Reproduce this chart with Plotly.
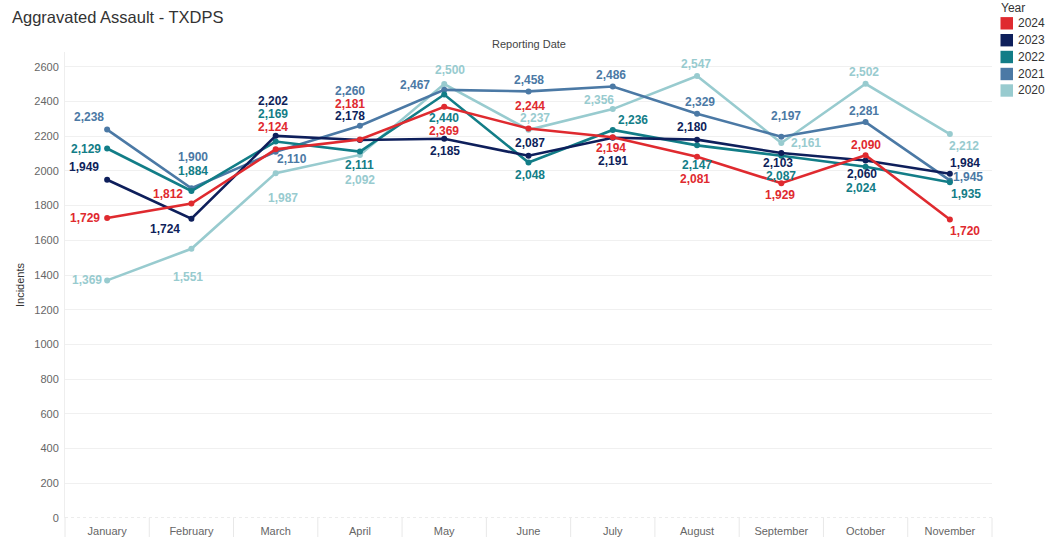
import plotly.graph_objects as go

months = ["January", "February", "March", "April", "May", "June", "July",
          "August", "September", "October", "November"]
years = ["2024", "2023", "2022", "2021", "2020"]
v2024 = [1729, 1812, 2124, 2181, 2369, 2244, 2194, 2081, 1929, 2090, 1720]
v2023 = [1949, 1724, 2202, 2178, 2185, 2087, 2191, 2180, 2103, 2060, 1984]
v2022 = [2129, 1884, 2169, 2111, 2440, 2048, 2236, 2147, 2087, 2024, 1935]
v2021 = [2238, 1900, 2110, 2260, 2467, 2458, 2486, 2329, 2197, 2281, 1945]
v2020 = [1369, 1551, 1987, 2092, 2500, 2237, 2356, 2547, 2161, 2502, 2212]
y_ticks = [0, 200, 400, 600, 800, 1000, 1200, 1400, 1600, 1800, 2000, 2200, 2400, 2600]

values = {"2024": v2024, "2023": v2023, "2022": v2022, "2021": v2021, "2020": v2020}
colors = {"2024": "#DF2A2F", "2023": "#0E1F5B", "2022": "#127D87",
          "2021": "#4B79A5", "2020": "#98CBCF"}

# label offsets in pixels (dx right, dy down) relative to each point
offsets = {
    "2024": [(-22, 0), (-23, -10), (-3, -22), (-10, -35), (0, 24), (1, -23), (-2, 11),
             (-2, 22), (-1, 12), (0, -10), (15, 12)],
    "2023": [(-23, -13), (-26, 10), (-3, -35), (-10, -24), (1, 12), (1, -13), (0, 23),
             (-5, -13), (-3, 10), (-4, 14), (15, -11)],
    "2022": [(-21, 0), (2, -20), (-3, -28), (0, 13), (0, 23), (1, 12), (20, -10),
             (0, 20), (0, 20), (-5, 21), (16, 12)],
    "2021": [(-18, -13), (2, -31), (16, 7), (-10, -35), (-29, -5), (0, -11), (-2, -12),
             (3, -12), (5, -21), (-2, -11), (18, -3)],
    "2020": [(-20, 0), (-3, 28), (7, 25), (0, 25), (6, -14), (6, -12), (-14, -9),
             (-1, -12), (25, 0), (-2, -12), (14, 12)],
}

W, H = 1045, 537
L, R, T, B = 65, 992, 52, 518  # plot area in pixels
YMAX = 2685


def px(xp):
    return (xp - L) / (R - L)


def py(yp):
    return (B - yp) / (B - T)


FONT = "Liberation Sans, Arial, sans-serif"
fig = go.Figure()
xs = list(range(len(months)))
for yr in reversed(years):
    fig.add_trace(go.Scatter(
        x=xs, y=values[yr], mode="lines+markers", name=yr,
        line=dict(color=colors[yr], width=2.6),
        marker=dict(color=colors[yr], size=6),
        showlegend=False, hoverinfo="skip"))

annotations = []
for yr in years:
    for i, v in enumerate(values[yr]):
        dx, dy = offsets[yr][i]
        annotations.append(dict(
            x=i, y=v, xref="x", yref="y", text="<b>{:,}</b>".format(v),
            showarrow=False, xshift=dx, yshift=-dy,
            font=dict(family=FONT, size=12, color=colors[yr]),
            xanchor="center", yanchor="middle"))

# titles
annotations.append(dict(x=px(10), y=py(17), xref="paper", yref="paper",
                        text="Aggravated Assault - TXDPS", showarrow=False,
                        xanchor="left", yanchor="middle",
                        font=dict(family=FONT, size=16.5, color="#333333")))
annotations.append(dict(x=0.5, y=py(44), xref="paper", yref="paper",
                        text="Reporting Date", showarrow=False,
                        xanchor="center", yanchor="middle",
                        font=dict(family=FONT, size=11, color="#444444")))
annotations.append(dict(x=px(20), y=0.5, xref="paper", yref="paper",
                        text="Incidents", showarrow=False, textangle=-90,
                        xanchor="center", yanchor="middle",
                        font=dict(family=FONT, size=11, color="#333333")))

shapes = []
# legend
annotations.append(dict(x=px(999), y=py(8), xref="paper", yref="paper",
                        text="Year", showarrow=False, xanchor="left", yanchor="middle",
                        font=dict(family=FONT, size=12, color="#333333")))
row_y = [23.3, 40.2, 57, 74, 90.5]
for yr, cy in zip(years, row_y):
    shapes.append(dict(type="rect", xref="paper", yref="paper",
                       x0=px(1000.5), x1=px(1013), y0=py(cy - 6.2), y1=py(cy + 6.2),
                       fillcolor=colors[yr], line=dict(width=0)))
    annotations.append(dict(x=px(1016), y=py(cy), xref="paper", yref="paper",
                            text=yr, showarrow=False, xanchor="left", yanchor="middle",
                            font=dict(family=FONT, size=12, color="#333333")))

# category separators in the axis band
for k in range(len(months) + 1):
    shapes.append(dict(type="line", xref="paper", yref="paper",
                       x0=k / len(months), x1=k / len(months),
                       y0=0, y1=py(537), line=dict(color="#e8e8e8", width=1)))
# zero line (dotted)
shapes.append(dict(type="line", xref="paper", yref="y", x0=0, x1=1, y0=0, y1=0,
                   line=dict(color="#d9d9d9", width=1, dash="dot")))

fig.update_layout(
    width=W, height=H,
    margin=dict(l=L, r=W - R, t=T, b=H - B, pad=0),
    paper_bgcolor="white", plot_bgcolor="white",
    font=dict(family=FONT, size=11, color="#666666"),
    xaxis=dict(range=[-0.5, len(months) - 0.5], tickmode="array", tickvals=xs,
               ticktext=months, showgrid=False, zeroline=False, showline=False,
               ticks="outside", ticklen=3, tickcolor="rgba(0,0,0,0)",
               tickfont=dict(size=11, color="#666666"), fixedrange=True,
               automargin=False),
    yaxis=dict(range=[0, YMAX], tickmode="array", tickvals=y_ticks,
               ticktext=[str(t) for t in y_ticks], showgrid=True,
               gridcolor="#f0f0f0", gridwidth=1, zeroline=False,
               showline=True, linecolor="#eeeeee", linewidth=1,
               ticks="outside", ticklen=3, tickcolor="rgba(0,0,0,0)",
               tickfont=dict(size=11, color="#666666"), fixedrange=True,
               automargin=False),
    annotations=annotations, shapes=shapes,
)

fig.write_html("out.html", post_script="document.body.style.margin='0';",
               config={"displayModeBar": False})
